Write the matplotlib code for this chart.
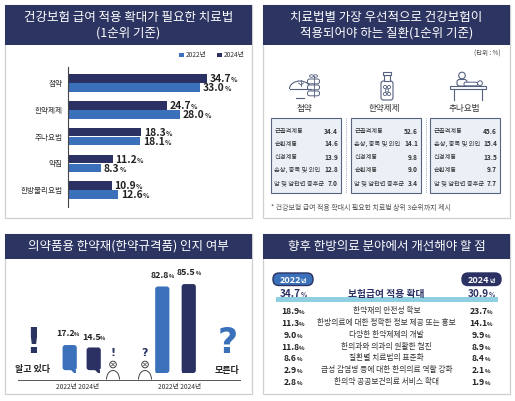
import matplotlib
matplotlib.use("Agg")
import matplotlib.pyplot as plt
import matplotlib.transforms as mtransforms
from matplotlib.patches import Rectangle, FancyBboxPatch, Circle, Polygon, Arc, Ellipse
import numpy as np

plt.rcParams['font.family'] = ['Noto Sans CJK KR', 'DejaVu Sans']

# ---------------- DATA ----------------
p1_title = "건강보험 급여 적용 확대가 필요한 치료법\n(1순위 기준)"
p1_categories = ["첩약", "한약제제", "추나요법", "약침", "한방물리요법"]
p1_2022 = [33.0, 28.0, 18.1, 8.3, 12.6]
p1_2024 = [34.7, 24.7, 18.3, 11.2, 10.9]
p1_series = ["2022년", "2024년"]

p2_title = "치료법별 가장 우선적으로 건강보험이\n적용되어야 하는 질환(1순위 기준)"
p2_treatments = ["첩약", "한약제제", "추나요법"]
p2_diseases = [
    ["근골격계통", "순환계통", "신경계통", "손상, 중독 및 외인", "암 및 암관련 증후군"],
    ["근골격계통", "손상, 중독 및 외인", "신경계통", "순환계통", "암 및 암관련 증후군"],
    ["근골격계통", "손상, 중독 및 외인", "신경계통", "순환계통", "암 및 암관련 증후군"],
]
p2_values = [
    [34.4, 14.6, 13.9, 12.8, 7.0],
    [52.6, 14.1, 9.8, 9.0, 3.4],
    [45.6, 15.4, 13.5, 9.7, 7.7],
]
p2_unit = "(단위 : %)"
p2_note = "* 건강보험 급여 적용 확대시 필요한 치료법 상위 3순위까지 제시"

p3_title = "의약품용 한약재(한약규격품) 인지 여부"
p3_groups = ["알고 있다", "모른다"]
p3_years = ["2022년", "2024년"]
p3_know = [17.2, 14.5]
p3_dont = [82.8, 85.5]

p4_title = "향후 한방의료 분야에서 개선해야 할 점"
p4_items = ["보험급여 적용 확대", "한약재의 안전성 확보",
            "한방의료에 대한 정확한 정보 제공 또는 홍보", "다양한 한약제제의 개발",
            "한의과와 의과의 원활한 협진", "질환별 치료법의 표준화",
            "급성 감염병 등에 대한 한의의료 역할 강화", "한의약 공공보건의료 서비스 확대"]
p4_2022 = [34.7, 18.9, 11.3, 9.0, 11.8, 8.6, 2.9, 2.8]
p4_2024 = [30.9, 23.7, 14.1, 9.9, 8.9, 8.4, 2.1, 1.9]
p4_years = ["2022", "2024"]

# ---------------- STYLE ----------------
NAVY = '#2c3462'
LIGHT = '#3b71ba'
DARK = '#2b3163'
GREY = '#cfcfcf'
ICON = '#55607f'

W, H = 515, 401
fig = plt.figure(figsize=(W / 100, H / 100), dpi=100)
fig.patch.set_facecolor('white')
R = fig.canvas.get_renderer()

bg = fig.add_axes([0, 0, 1, 1])
bg.set_xlim(0, W)
bg.set_ylim(H, 0)
bg.axis('off')


def px_axes(x0, y0, x1, y1):
    a = fig.add_axes([x0 / W, 1 - y1 / H, (x1 - x0) / W, (y1 - y0) / H])
    a.patch.set_alpha(0)
    return a


def panel(x0, y0, x1, y1, tb):
    bg.add_patch(Rectangle((x0, y0), x1 - x0, y1 - y0, fc='white', ec=GREY, lw=0.9, zorder=0))
    bg.add_patch(Rectangle((x0, y0), x1 - x0, tb - y0, fc=NAVY, ec='none', zorder=1))


def num_pct(ax, x, y, num, fs, pfs, color='#222222', ha='left', dx=0, dy=0,
            weight='bold', transform=None, pct='%', zorder=5, gap=-0.15):
    tr = transform if transform is not None else ax.transData
    yoff = -0.36 * fs + dy
    t1 = ax.text(x, y, num, fontsize=fs, weight=weight, color=color, ha='left', va='baseline',
                 transform=tr, zorder=zorder)
    t2 = ax.text(x, y, pct, fontsize=pfs, weight=weight, color=color, ha='left', va='baseline',
                 transform=tr, zorder=zorder)
    w1 = t1.get_window_extent(R).width * 72 / fig.dpi
    w2 = t2.get_window_extent(R).width * 72 / fig.dpi
    tot = w1 + gap + w2
    shift = {'left': 0, 'center': -tot / 2, 'right': -tot}[ha] + dx
    t1.set_transform(mtransforms.offset_copy(tr, fig=fig, x=shift, y=yoff, units='points'))
    t2.set_transform(mtransforms.offset_copy(tr, fig=fig, x=shift + w1 + gap, y=yoff, units='points'))


# ================= PANEL 1 =================
panel(5, 5, 252, 218, 45)
bg.text(128.5, 25, p1_title, color='white', fontsize=9, ha='center', va='center',
        linespacing=1.25, weight='medium')
for sx, col, lab in [(179.3, LIGHT, p1_series[0]), (217.3, DARK, p1_series[1])]:
    bg.add_patch(Rectangle((sx, 52.5), 4.6, 4.6, fc=col, ec='none'))
    bg.text(sx + 6.2, 55, lab, fontsize=4.8, va='center', ha='left', color='#333333')

ax1 = px_axes(68, 67, 228, 207)
ypos = np.arange(len(p1_categories))
bh = 0.32
ax1.barh(ypos - 0.17, p1_2024, height=bh, color=DARK)
ax1.barh(ypos + 0.17, p1_2022, height=bh, color=LIGHT)
ax1.set_xlim(0, 40)
ax1.set_ylim(4.63, -0.6)
for s in ['top', 'right', 'bottom']:
    ax1.spines[s].set_visible(False)
ax1.spines['left'].set_color('#444444')
ax1.spines['left'].set_linewidth(0.8)
ax1.set_xticks([])
ax1.set_yticks(ypos, labels=p1_categories, fontsize=5.5, color='#333333')
ax1.tick_params(axis='y', length=0, pad=4)
for i in range(len(p1_categories)):
    num_pct(ax1, p1_2024[i], ypos[i] - 0.17, f"{p1_2024[i]:.1f}", 7.4, 4.8, dx=2)
    num_pct(ax1, p1_2022[i], ypos[i] + 0.17, f"{p1_2022[i]:.1f}", 7.4, 4.8, dx=2)

# ================= PANEL 2 =================
panel(263, 5, 510, 218, 45)
bg.text(386.5, 25, p2_title, color='white', fontsize=9, ha='center', va='center',
        linespacing=1.25, weight='medium')
bg.text(501, 54, p2_unit, fontsize=4.6, ha='right', va='center', color='#444444')

# icons (decorative)
bg.add_patch(Arc((300, 89), 21, 16, theta1=180, theta2=360, color=ICON, lw=0.8))
bg.plot([289.5, 310.5], [89, 89], color=ICON, lw=0.8)
bg.plot([296, 304], [97.5, 97.5], color=ICON, lw=0.8)
bg.plot([301, 301], [80, 86], color=ICON, lw=0.6)
bg.plot([298.5, 301, 303.5], [83, 85, 83], color=ICON, lw=0.6)
for yy in [79, 85, 91]:
    bg.add_patch(FancyBboxPatch((307.5, yy), 12, 4.8, boxstyle="round,pad=0,rounding_size=2",
                                fc='white', ec=ICON, lw=0.7))
bg.plot([313.5, 313.5], [76, 97], color=ICON, lw=0.6)
bg.add_patch(Ellipse((311.5, 76), 4, 2.5, fc='none', ec=ICON, lw=0.6))
bg.add_patch(Ellipse((315.5, 76), 4, 2.5, fc='none', ec=ICON, lw=0.6))
bg.add_patch(FancyBboxPatch((381, 81), 12, 19, boxstyle="round,pad=0,rounding_size=2.5",
                            fc='white', ec=ICON, lw=0.8))
bg.add_patch(Rectangle((384, 74.5), 6, 6.5, fc='white', ec=ICON, lw=0.8))
bg.add_patch(Rectangle((383, 72), 8, 2.5, fc='white', ec=ICON, lw=0.8))
for cx, cy in [(385, 87), (389, 87), (387, 90.5), (385, 94), (389, 94)]:
    bg.add_patch(Circle((cx, cy), 1.6, fc='white', ec=ICON, lw=0.6))
bg.add_patch(Rectangle((450, 86), 36, 3, fc='white', ec=ICON, lw=0.8))
bg.plot([454, 454], [89, 100], color=ICON, lw=0.8)
bg.plot([482, 482], [89, 100], color=ICON, lw=0.8)
bg.add_patch(Circle((462, 75.5), 3.3, fc='white', ec=ICON, lw=0.8))
bg.add_patch(FancyBboxPatch((457, 79.5), 10, 6.5, boxstyle="round,pad=0,rounding_size=2.5",
                            fc='white', ec=ICON, lw=0.8))
bg.add_patch(Circle((480, 83.2), 2.4, fc='white', ec=ICON, lw=0.7))
bg.add_patch(FancyBboxPatch((464, 82.2), 13.5, 3.6, boxstyle="round,pad=0,rounding_size=1.5",
                            fc='white', ec=ICON, lw=0.7))

head_x = [304, 384, 464]
boxes = [(271, 341), (351, 421), (430, 500)]
row_y = [131, 144, 157, 170, 183]
for k in range(3):
    bg.text(head_x[k], 109, p2_treatments[k], fontsize=6.2, ha='center', va='center', color='#333333')
    x0, x1 = boxes[k]
    bg.add_patch(Rectangle((x0, 118), x1 - x0, 75, fc='#ebf0f7', ec='#58637f', lw=0.8))
    for j in range(5):
        bg.text(x0 + 3.5, row_y[j], p2_diseases[k][j], fontsize=4.55, ha='left', va='center', color='#333333')
        bg.text(x1 - 3, row_y[j], f"{p2_values[k][j]:.1f}", fontsize=4.7, ha='right', va='center',
                color='#333333', weight='bold')
for xv in [346, 425.5]:
    bg.plot([xv, xv], [118, 193], color='#8c95aa', lw=0.6, ls=(0, (1, 1.2)))
bg.text(271, 208, p2_note, fontsize=5.0, ha='left', va='center', color='#555555')

# ================= PANEL 3 =================
panel(5, 234, 252, 394, 259)
bg.text(128.5, 246.5, p3_title, color='white', fontsize=9, ha='center', va='center', weight='medium')

ax3 = px_axes(5, 270, 252, 373)
BASE = 14.1
ax3.set_xlim(0, 247 / 24.5)
ax3.set_ylim(-BASE, 103 / 0.893 - BASE)
ax3.axis('off')
xpos = [2.64, 3.62, 6.42, 7.5]
vals = p3_know + p3_dont
cols = [LIGHT, DARK, LIGHT, DARK]
bw = 0.58
bars = ax3.bar(xpos, [v + BASE for v in vals], bottom=-BASE, width=bw, color=cols)
asp = (1 / 0.893) / (1 / 24.5)
for i, b in enumerate(bars):
    x, y0 = b.get_x(), b.get_y()
    w, h = b.get_width(), b.get_height()
    b.set_visible(False)
    bot = y0 + (3.2 if i < 2 else 0)
    ax3.add_patch(FancyBboxPatch((x, bot), w, h - (bot - y0), boxstyle="round,pad=0,rounding_size=0.11",
                                 mutation_aspect=asp, fc=cols[i], ec='none'))
    if i < 2:
        tail = [(x + w - 0.22, bot + 0.5), (x + w - 0.02, bot + 0.5), (x + w - 0.02, bot - 5.5)]
    else:
        tail = [(x + 0.02, y0 + 2), (x + 0.25, y0 + 2), (x + 0.02, y0 - 4.5)]
    ax3.add_patch(Polygon(tail, closed=True, fc=cols[i], ec='none'))
    num_pct(ax3, xpos[i] - (0.08 if i == 0 else 0), vals[i], f"{vals[i]:.1f}", 6.4, 4.0,
            ha='center', dy=8.5 if i != 1 else 7.5, transform=ax3.transData)

bg.plot([18, 240], [379.5, 379.5], color='#555555', lw=0.7)
bg.text(78, 387, p3_years[0] + " " + p3_years[1], fontsize=4.8, ha='center', va='center', color='#333333')
bg.text(180, 387, p3_years[0] + " " + p3_years[1], fontsize=4.8, ha='center', va='center', color='#333333')
bg.text(32.5, 369.5, p3_groups[0], fontsize=6.5, weight='bold', ha='center', va='center', color='#222222')
bg.text(227, 371, p3_groups[1], fontsize=6.5, weight='bold', ha='center', va='center', color='#222222')
bg.text(33, 343, "!", fontsize=25, weight='heavy', ha='center', va='center', color=NAVY,
        family='DejaVu Sans')
bg.text(228, 343, "?", fontsize=25, weight='heavy', ha='center', va='center', color=LIGHT,
        family='DejaVu Sans')
for px_, mark in [(113, "!"), (145, "?")]:
    bg.add_patch(Circle((px_, 364.5), 3.3, fc='white', ec='#444444', lw=0.7))
    bg.plot([px_ - 1.5, px_ + 1.5], [363, 366], color='#444444', lw=0.5)
    bg.plot([px_ - 1.5, px_ + 1.5], [366, 363], color='#444444', lw=0.5)
    bg.add_patch(Arc((px_, 379.5), 13, 18, theta1=180, theta2=360, color='#444444', lw=0.7))
    bg.text(px_, 353, mark, fontsize=8, weight='bold', ha='center', va='center', color=NAVY,
            family='DejaVu Sans')

# ================= PANEL 4 =================
panel(263, 234, 510, 394, 259)
bg.text(386.5, 246.5, p4_title, color='white', fontsize=9, ha='center', va='center', weight='medium')
bg.add_patch(FancyBboxPatch((273, 273), 40, 12.5, boxstyle="round,pad=0,rounding_size=6",
                            fc=LIGHT, ec=DARK, lw=1.0))
bg.add_patch(FancyBboxPatch((462, 273), 39, 12.5, boxstyle="round,pad=0,rounding_size=6",
                            fc=DARK, ec=DARK, lw=1.0))
num_pct(bg, 293, 279.5, p4_years[0], 6.6, 4.2, color='white', ha='center', pct='년',
        transform=bg.transData, dy=-0.4)
num_pct(bg, 481.5, 279.5, p4_years[1], 6.6, 4.2, color='white', ha='center', pct='년',
        transform=bg.transData, dy=-0.4)
bg.add_patch(Rectangle((275.5, 296.8), 222.5, 5, fc='#8fcfe2', ec='none', zorder=2))
rows_y = [293.5, 310.7, 322.7, 335, 346.7, 358.3, 370, 382.3]
for i, item in enumerate(p4_items):
    if i == 0:
        num_pct(bg, 293, rows_y[i], f"{p4_2022[i]:.1f}", 7.2, 4.6, color=DARK, ha='center',
                transform=bg.transData)
        num_pct(bg, 481, rows_y[i], f"{p4_2024[i]:.1f}", 7.2, 4.6, color=DARK, ha='center',
                transform=bg.transData)
        bg.text(386, rows_y[i], item, fontsize=7, weight='bold', color=DARK, ha='center',
                va='center', zorder=5)
    else:
        num_pct(bg, 293, rows_y[i], f"{p4_2022[i]:.1f}", 6.2, 4.2, color='#222222', ha='center',
                transform=bg.transData)
        num_pct(bg, 481, rows_y[i], f"{p4_2024[i]:.1f}", 6.2, 4.2, color='#222222', ha='center',
                transform=bg.transData)
        bg.text(386.5, rows_y[i], item, fontsize=5.6, color='#333333', ha='center', va='center')

fig.savefig("out.png", dpi=100, facecolor='white')
